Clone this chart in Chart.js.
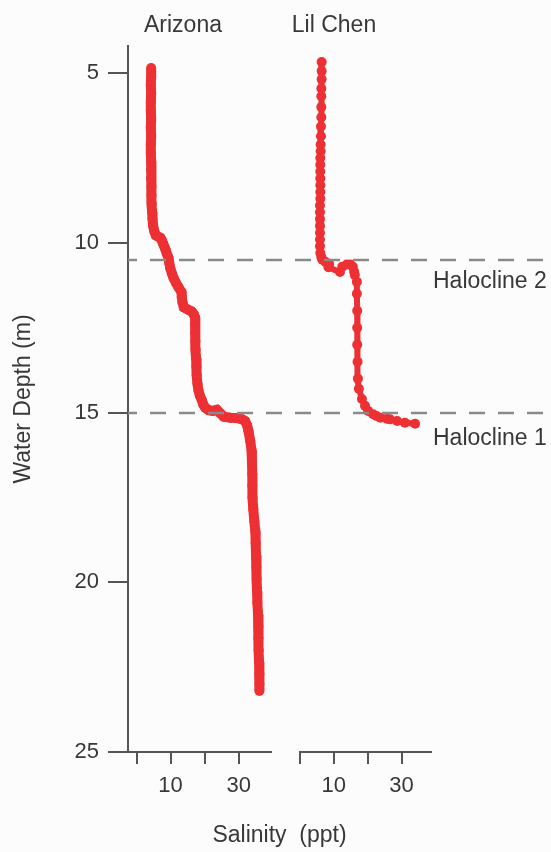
<!DOCTYPE html>
<html>
<head>
<meta charset="utf-8">
<script src="https://cdn.jsdelivr.net/npm/chart.js@4.4.1/dist/chart.umd.min.js"></script>
<style>
  html, body { margin: 0; padding: 0; background: #fcfcfc; }
  #wrap { position: relative; width: 551px; height: 852px; }
  #wrap canvas { position: absolute; left: 0; top: 0; }
</style>
</head>
<body>
<div id="wrap">
  <canvas id="arizonaPanel" width="551" height="852"></canvas>
  <canvas id="lilChenPanel" width="551" height="852"></canvas>
</div>
<script>
// ---- profile data: water depth (m) and salinity (ppt) ----
const siteNames = ['Arizona', 'Lil Chen'];

const arizonaDepth = [4.85, 5.1, 5.35, 5.6, 5.85, 6.1, 6.35, 6.6, 6.85, 7.1, 7.35, 7.6, 7.85, 8.1, 8.35,
  8.6, 8.85, 9.1, 9.3, 9.5, 9.65, 9.78, 9.85, 9.92, 10.02, 10.12, 10.22, 10.32, 10.44, 10.58, 10.74,
  10.9, 11.04, 11.18, 11.3, 11.45, 11.6, 11.75, 11.9, 11.96, 12.02, 12.1, 12.2, 12.4, 12.65, 12.9,
  13.15, 13.4, 13.65, 13.9, 14.15, 14.35, 14.5, 14.64, 14.76, 14.86, 14.93, 14.95, 14.92, 15.02,
  15.12, 15.15, 15.16, 15.2, 15.25, 15.38, 15.55, 15.83, 16.12, 16.45, 16.8, 17.15, 17.5, 17.85,
  18.2, 18.5, 18.85, 19.2, 19.55, 19.9, 20.25, 20.6, 20.95, 21.3, 21.65, 22.0, 22.35, 22.7, 23.0, 23.2];
const arizonaSalinity = [4.3, 4.3, 4.2, 4.3, 4.2, 4.2, 4.3, 4.2, 4.3, 4.2, 4.2, 4.3, 4.3, 4.3, 4.4,
  4.4, 4.5, 4.6, 4.7, 4.9, 5.2, 5.7, 7.0, 7.4, 7.8, 8.2, 8.6, 8.9, 9.4, 9.6, 9.9,
  10.4, 10.9, 11.6, 12.3, 13.2, 13.3, 13.5, 13.9, 15.0, 16.2, 16.8, 17.2, 17.2, 17.2, 17.3,
  17.4, 17.5, 17.6, 17.7, 17.9, 18.2, 18.6, 19.2, 19.6, 20.2, 21.2, 22.4, 23.6, 24.6,
  25.6, 27.5, 29.5, 31.0, 31.9, 32.5, 32.9, 33.4, 33.8, 33.9, 34.0, 34.0, 34.1, 34.3,
  34.6, 34.9, 35.0, 35.1, 35.2, 35.3, 35.4, 35.5, 35.7, 35.8, 35.8, 35.9, 36.0, 36.1, 36.1, 36.1];

const lilChenDepth = [4.67, 4.94, 5.18, 5.45, 5.68, 6.0, 6.3, 6.57, 6.86, 7.1, 7.3, 7.5, 7.7, 7.9,
  8.1, 8.3, 8.5, 8.7, 8.9, 9.1, 9.3, 9.5, 9.7, 9.9, 10.1, 10.3, 10.42, 10.5, 10.56, 10.62, 10.72,
  10.86, 10.7, 10.64, 10.64, 10.7, 10.85, 10.95, 11.15, 11.5, 12.0, 12.5, 13.0, 13.5, 14.0, 14.3,
  14.6, 14.8, 14.95, 15.05, 15.1, 15.15, 15.18, 15.2, 15.25, 15.3, 15.33];
const lilChenSalinity = [6.4, 6.4, 6.4, 6.3, 6.3, 6.3, 6.3, 6.2, 6.2, 6.1, 6.1, 6.0, 6.0, 6.0,
  6.0, 6.0, 6.0, 6.0, 5.9, 5.9, 5.9, 5.9, 5.9, 5.9, 5.9, 6.0, 6.3, 6.6, 7.5, 8.6, 8.4,
  11.8, 12.5, 13.8, 14.9, 15.6, 16.0, 16.2, 16.8, 16.8, 16.9, 16.9, 16.9, 17.0, 17.1, 17.4,
  18.3, 19.2, 20.1, 21.6, 22.6, 23.8, 25.7, 26.6, 28.7, 31.0, 34.0];

const depthTicks = [5, 10, 15, 20, 25];
const salinityTicks = [0, 10, 20, 30];
const salinityTickLabels = ['', '10', '', '30'];

const haloclineDepths = [15, 10.5];
const haloclineLabels = ['Halocline 1', 'Halocline 2'];

// ---- styling ----
const FONT = "'Liberation Sans', Arial, sans-serif";
const INK = '#383838';
const AXIS = '#555555';
const RED = 'rgb(237, 48, 52)';
const DASH = '#8a8a8a';
const DEPTH_MIN = 4.2;
const DEPTH_MAX = 25;
const W = 551, H = 852;

function toPoints(depths, sal) {
  return depths.map((d, i) => ({ x: sal[i], y: d }));
}

function depthAxis(show) {
  return {
    type: 'linear',
    reverse: true,
    min: DEPTH_MIN,
    max: DEPTH_MAX,
    display: show,
    afterBuildTicks: s => { s.ticks = depthTicks.map(v => ({ value: v })); },
    afterFit: s => { if (show) s.width = 128; },
    border: { display: true, color: AXIS, width: 2 },
    grid: { drawOnChartArea: false, drawTicks: true, tickLength: 20, tickWidth: 2, lineWidth: 2, tickColor: AXIS, color: AXIS },
    ticks: { color: INK, font: { family: FONT, size: 22 }, padding: 9, autoSkip: false },
    title: { display: true, text: 'Water Depth (m)', color: INK, font: { family: FONT, size: 23 }, padding: { top: 10, bottom: 0 } }
  };
}

function salinityAxis(min, max) {
  return {
    type: 'linear',
    position: 'bottom',
    min: min,
    max: max,
    afterBuildTicks: s => { s.ticks = salinityTicks.map(v => ({ value: v })); },
    afterFit: s => { s.height = 100; },
    border: { display: true, color: AXIS, width: 2 },
    grid: { drawOnChartArea: false, drawTicks: true, tickLength: 12, tickWidth: 2, lineWidth: 2, tickColor: AXIS, color: AXIS },
    ticks: {
      color: INK, font: { family: FONT, size: 22 }, padding: 9, autoSkip: false, maxRotation: 0,
      callback: (v, i) => salinityTickLabels[i]
    }
  };
}

function profileDataset(label, depths, sal, lineWidth) {
  return {
    label: label,
    data: toPoints(depths, sal),
    showLine: true,
    borderColor: RED,
    borderWidth: lineWidth,
    backgroundColor: RED,
    pointRadius: 5,
    pointBorderWidth: 0,
    pointBackgroundColor: RED,
    tension: 0
  };
}

// panel heading drawn above each profile
const panelTitle = {
  id: 'panelTitle',
  afterDraw(chart, args, opts) {
    const ctx = chart.ctx;
    ctx.save();
    ctx.font = '23px ' + FONT;
    ctx.fillStyle = INK;
    ctx.textAlign = 'center';
    ctx.textBaseline = 'alphabetic';
    ctx.fillText(opts.text, chart.chartArea.left + opts.offset, 32);
    ctx.restore();
  }
};

const baseOptions = {
  responsive: false,
  animation: false,
  devicePixelRatio: 1,
  events: []
};

const arizonaChart = new Chart(document.getElementById('arizonaPanel'), {
  type: 'scatter',
  data: { datasets: [profileDataset(siteNames[0], arizonaDepth, arizonaSalinity, 10)] },
  options: Object.assign({}, baseOptions, {
    layout: { padding: { left: 0, top: 46, right: W - 271, bottom: 0 } },
    scales: { x: salinityAxis(-2.5, 39.5), y: depthAxis(true) },
    plugins: {
      legend: { display: false },
      tooltip: { enabled: false },
      panelTitle: { text: siteNames[0], offset: 55 }
    }
  }),
  plugins: [panelTitle]
});

// halocline markers and shared salinity title, drawn on the upper layer
const haloclines = {
  id: 'haloclines',
  afterDraw(chart, args, opts) {
    const ctx = chart.ctx;
    const ys = chart.scales.y;
    ctx.save();
    ctx.strokeStyle = DASH;
    ctx.lineWidth = 2.5;
    ctx.setLineDash([16, 13]);
    ctx.lineDashOffset = 7;
    ctx.font = '23px ' + FONT;
    ctx.fillStyle = INK;
    ctx.textAlign = 'left';
    ctx.textBaseline = 'alphabetic';
    haloclineDepths.forEach((d, i) => {
      const py = Math.round(ys.getPixelForValue(d));
      ctx.beginPath();
      ctx.moveTo(opts.from, py);
      ctx.lineTo(chart.width, py);
      ctx.stroke();
      ctx.fillText(haloclineLabels[i], opts.labelX, py + opts.labelDrop[i]);
    });
    ctx.setLineDash([]);
    ctx.textAlign = 'center';
    ctx.fillText('Salinity  (ppt)', (opts.from + chart.chartArea.right) / 2, 842);
    ctx.restore();
  }
};

const lilChenChart = new Chart(document.getElementById('lilChenPanel'), {
  type: 'scatter',
  data: { datasets: [profileDataset(siteNames[1], lilChenDepth, lilChenSalinity, 6)] },
  options: Object.assign({}, baseOptions, {
    layout: { padding: { left: 300, top: 46, right: W - 431, bottom: 0 } },
    scales: { x: salinityAxis(0, 38.7), y: depthAxis(false) },
    plugins: {
      legend: { display: false },
      tooltip: { enabled: false },
      panelTitle: { text: siteNames[1], offset: 34 },
      haloclines: { from: arizonaChart.chartArea.left, labelX: 433, labelDrop: [32, 28] }
    }
  }),
  plugins: [panelTitle, haloclines]
});
</script>
</body>
</html>
